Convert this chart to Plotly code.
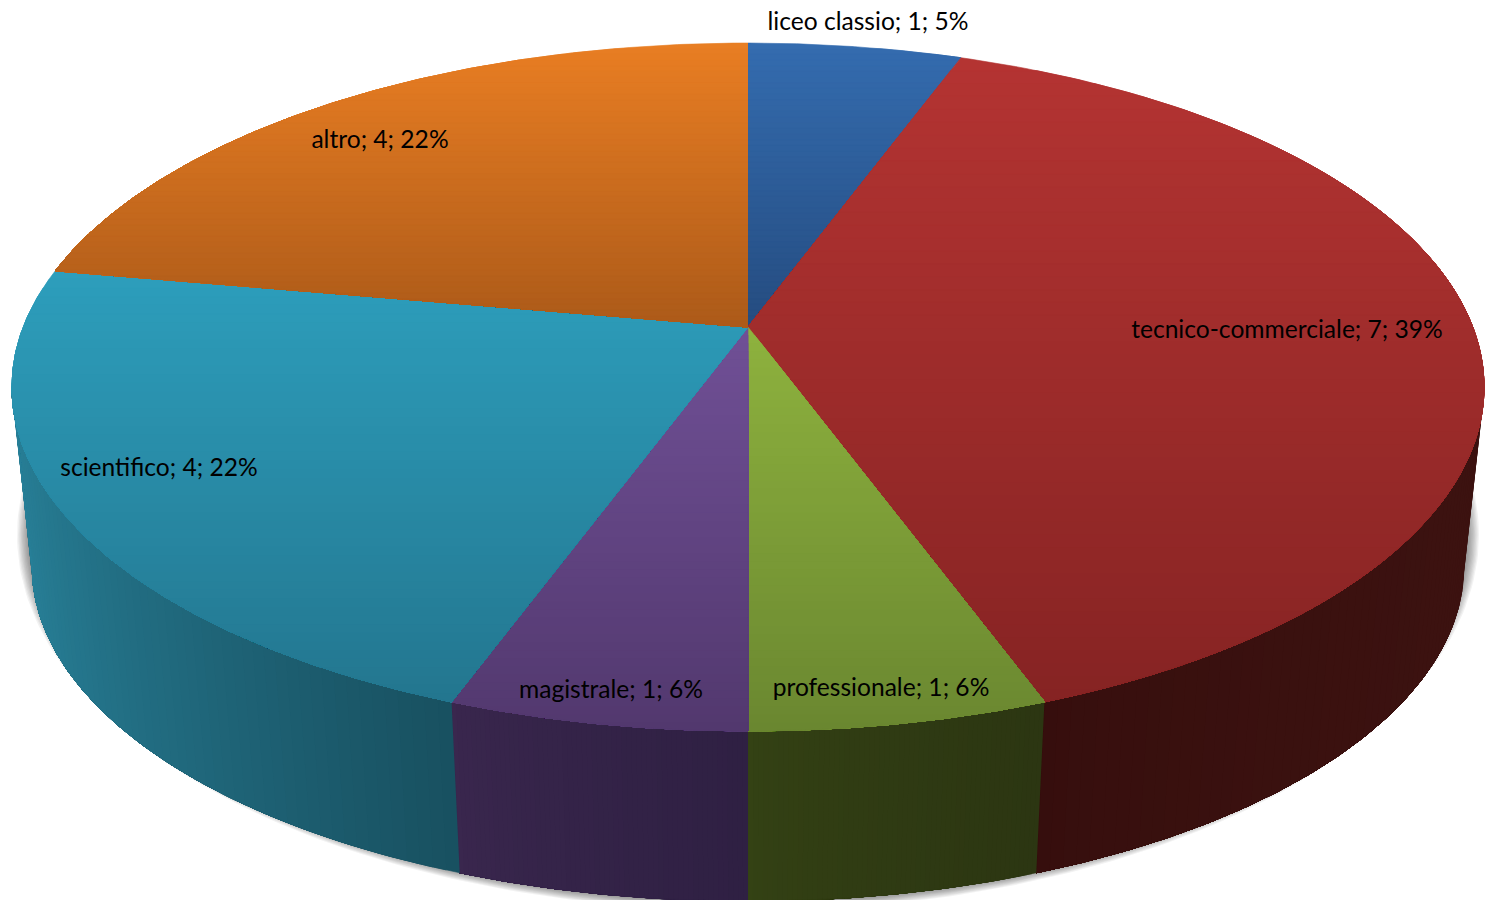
import numpy as np
import plotly.graph_objects as go

categories = ["liceo classio", "tecnico-commerciale", "professionale", "magistrale", "scientifico", "altro"]
values = [1, 7, 1, 1, 4, 4]
percents = [5, 39, 6, 6, 22, 22]

# top gradient (first colour at slice top, second at slice bottom)
top_colors = [
    ((52, 108, 175), (37, 76, 128)),
    ((180, 52, 50), (134, 35, 35)),
    ((142, 178, 62), (106, 135, 48)),
    ((112, 80, 150), (82, 56, 110)),
    ((45, 158, 188), (35, 118, 143)),
    ((233, 126, 35), (172, 90, 25)),
]
# wall gradient (colour at the left end, at the right end of the visible wall)
wall_colors = [
    ((40, 15, 15), (40, 15, 15)),
    ((54, 14, 13), (60, 18, 16)),
    ((52, 66, 20), (44, 54, 18)),
    ((58, 39, 78), (47, 32, 67)),
    ((40, 128, 152), (24, 80, 96)),
    ((40, 128, 152), (40, 128, 152)),
]
label_xy = [(868, 24), (1287, 332), (881, 690), (611, 692), (159, 470), (380, 142)]

# projection of the round pie onto the page
CX, CY, A, B, K = 748.0, 327.0, 724.7, 333.5, 0.1744
VP_Y, WALL_SCALE = 6918.0, 0.9725


def rim(theta, level=0.0):
    u, v = np.sin(theta), np.cos(theta)
    d = 1 + K * v
    x = CX + A * u / d
    y = CY - B * v / d
    s = 1 - (1 - WALL_SCALE) * level
    return CX + (x - CX) * s, VP_Y + (y - VP_Y) * s


def mix(c0, c1, t):
    t = min(max(t, 0.0), 1.0)
    return "rgb(%d,%d,%d)" % tuple(round(a + (b - a) * t) for a, b in zip(c0, c1))


def clip_below(xs, ys, y0):
    ox, oy = [], []
    n = len(xs)
    for i in range(n):
        x1, y1, x2, y2 = xs[i], ys[i], xs[(i + 1) % n], ys[(i + 1) % n]
        if y1 >= y0:
            ox.append(x1); oy.append(y1)
        if (y1 >= y0) != (y2 >= y0):
            t = (y0 - y1) / (y2 - y1)
            ox.append(x1 + (x2 - x1) * t); oy.append(y0)
    return ox, oy


def poly(xs, ys, color):
    return go.Scatter(x=list(xs), y=list(ys), mode="lines", fill="toself", fillcolor=color,
                      line=dict(color=color, width=0.6), hoverinfo="skip", showlegend=False)


fig = go.Figure()

# soft shadow under the pie
tt = np.linspace(0, 2 * np.pi, 361)
for i in range(12):
    g = i / 11
    rx, ry = 731 - 14 * g, 376 - 11 * g
    fig.add_trace(go.Scatter(x=748 + rx * np.cos(tt), y=535 + ry * np.sin(tt), mode="lines", fill="toself",
                             fillcolor="rgba(0,0,0,0.05)", line=dict(width=0), hoverinfo="skip", showlegend=False))

total = sum(values)
edges = np.cumsum([0] + values) / total * 2 * np.pi
lim = np.arccos(-K)  # the rim turns away from the viewer here
front0, front1 = lim, 2 * np.pi - lim

# walls
for i in range(len(values)):
    a0, a1 = max(edges[i], front0), min(edges[i + 1], front1)
    if a1 <= a0:
        continue
    n = 60
    x_left, _ = rim(a1)
    x_right, _ = rim(a0)
    for j in range(n):
        # painted from right to left, each strip reaching to the far end of the slice
        th = np.linspace(a0 + (a1 - a0) * j / n, a1, 2 + 2 * (n - j))
        xt, yt = rim(th)
        xb, yb = rim(th[::-1], 1.0)
        xm, _ = rim(a0 + (a1 - a0) * (j + 0.5) / n)
        t = ((xm - x_left) / max(x_right - x_left, 1)) ** 0.7
        fig.add_trace(poly(np.r_[xt, xb], np.r_[yt, yb], mix(wall_colors[i][0], wall_colors[i][1], t)))

# top faces
for i in range(len(values)):
    th = np.linspace(edges[i], edges[i + 1], 160)
    x, y = rim(th)
    xs = [CX] + list(x)
    ys = [CY] + list(y)
    y0, y1 = min(ys), max(ys)
    n = 50
    for j in range(n):
        yc = y0 + (y1 - y0) * j / n
        ox, oy = clip_below(xs, ys, yc)
        if len(ox) >= 3:
            fig.add_trace(poly(ox, oy, mix(top_colors[i][0], top_colors[i][1], (j + 0.5) / n)))

# labels
fig.add_trace(go.Scatter(
    x=[p[0] for p in label_xy], y=[p[1] for p in label_xy], mode="text",
    text=[f"{c}; {v}; {p}%" for c, v, p in zip(categories, values, percents)],
    textposition="middle center", textfont=dict(family="Lato", size=24.6, color="#000000"),
    hoverinfo="skip", showlegend=False))

fig.update_layout(
    width=1485, height=900, margin=dict(l=0, r=0, t=0, b=0),
    paper_bgcolor="white", plot_bgcolor="white", showlegend=False,
    xaxis=dict(range=[0, 1485], visible=False, fixedrange=True),
    yaxis=dict(range=[900, 0], visible=False, fixedrange=True),
)
fig.write_html("out.html", config=dict(displayModeBar=False),
               post_script="document.body.style.margin='0';document.documentElement.style.overflow='hidden';")
